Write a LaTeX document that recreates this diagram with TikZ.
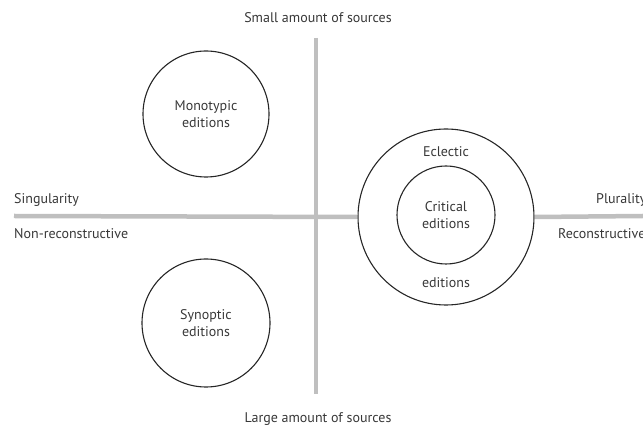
\documentclass[tikz,border=0pt]{standalone}
\usepackage{fontspec}
\setmainfont{PT Sans}

\begin{document}
\begin{tikzpicture}[x = 1pt, y = -1pt, font = \fontsize{14}{17.5}\selectfont, text = black!78]

    \def\axisx {316}
    \def\axisy {216}

    \tikzset{
        edition/.style = {circle, draw = black!85, line width = 1.1pt, inner sep = 0pt, align = center},
        axis/.style    = {draw = black!25, line width = 4.5pt},
        label/.style   = {inner sep = 0pt}
    }

    \useasboundingbox (0, 0) rectangle (643, 427);
    \clip (0, 0) rectangle (643, 427);

    % the two axes
    \coordinate (top)    at (\axisx, 38);
    \coordinate (bottom) at (\axisx, 394);
    \coordinate (left)   at (14, \axisy);
    \coordinate (right)  at (643, \axisy);

    % editions
    \node [edition, minimum size = 126pt] (monotypic) at (206, 114) {Monotypic\\editions};
    \node [edition, minimum size = 128pt] (synoptic)  at (206, 323) {Synoptic\\editions};
    \node [edition, minimum size = 176pt] (eclectic)  at (446, 217) {};
    \node [edition, minimum size = 98pt]  (critical)  at (446, 215) {Critical\\editions};
    \node [label, anchor = base] (eclectic top)    at (446, 157) {Eclectic};
    \node [label, anchor = base] (eclectic bottom) at (446, 288) {editions};

    \draw [axis] (top) -- (bottom);
    \draw [axis] (left) -- (eclectic.west);
    \draw [axis] (eclectic.east) -- (right);

    % axis labels
    \node [label, anchor = base] (small)  at (318, 23)  {Small amount of sources};
    \node [label, anchor = base] (large)  at (318, 423) {Large amount of sources};
    \node [label, anchor = base west] (singularity) at (14, 204) {Singularity};
    \node [label, anchor = base west] (nonrec)      at (14, 239) {Non-reconstructive};
    \node [label, anchor = base west] (plurality)   at (596, 204) {Plurality};
    \node [label, anchor = base west] (rec)         at (558, 239) {Reconstructive};

\end{tikzpicture}
\end{document}
